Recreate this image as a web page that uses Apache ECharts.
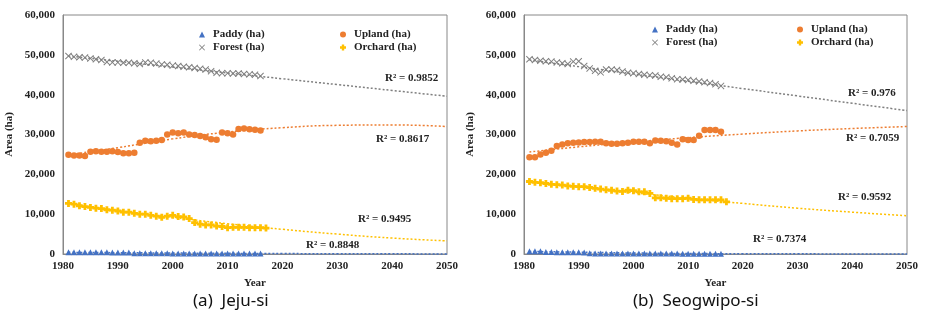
<!DOCTYPE html>
<html>
<head>
<meta charset="utf-8">
<script src="https://cdn.jsdelivr.net/npm/echarts@6/dist/echarts.min.js"></script>
<style>
html, body { margin: 0; padding: 0; background: #fff; }
#main { width: 930px; height: 311px; }
</style>
</head>
<body>
<div id="main"></div>
<script>
// observed years (orchard has one extra point in 2017)
var years = [1981,1982,1983,1984,1985,1986,1987,1988,1989,1990,
             1991,1992,1993,1994,1995,1996,1997,1998,1999,2000,
             2001,2002,2003,2004,2005,2006,2007,2008,2009,2010,
             2011,2012,2013,2014,2015,2016,2017];

// (a) Jeju-si
var paddyJeju = [450,440,430,430,420,420,410,410,400,400,390,390,
                 180,180,170,170,160,160,160,150,150,150,140,140,140,130,130,130,120,120,110,110,110,100,100,100];
var uplandJeju = [24900,24700,24700,24600,25700,25800,25700,25700,25800,25600,
                  25300,25300,25400,27900,28400,28300,28400,28600,30000,30500,
                  30300,30500,30000,29900,29600,29300,28800,28700,30500,30300,
                  30000,31400,31500,31300,31200,31000];
var forestJeju = [49700,49500,49400,49300,49100,48900,48700,48200,48100,48100,
                  48000,48000,47900,47700,48100,48000,47800,47600,47500,47300,
                  47200,47000,46900,46700,46500,46300,45900,45500,45400,45400,
                  45300,45300,45200,45100,45000,44700];
var orchardJeju = [12700,12500,12100,11900,11700,11500,11400,11100,11000,10800,
                   10500,10500,10200,10000,10000,9700,9500,9200,9500,9700,
                   9400,9300,8900,7900,7500,7300,7300,7000,6900,6600,
                   6700,6700,6700,6600,6600,6600,6500];

// (b) Seogwipo-si
var paddySeo = [700,680,660,500,480,470,460,450,440,420,400,
                160,150,150,140,140,130,130,130,120,120,120,110,110,110,100,100,100,90,90,90,80,80,80,70,70];
var uplandSeo = [24300,24300,25000,25400,25900,27100,27500,27800,27900,28000,
                 28100,28100,28200,28200,27800,27700,27700,27800,27900,28200,
                 28200,28200,27800,28500,28400,28300,27900,27500,28800,28600,
                 28600,29700,31100,31100,31100,30700];
var forestSeo = [48900,48700,48500,48400,48300,48100,47900,47700,48300,48400,
                 47200,46600,46000,45600,46300,46300,46200,45800,45500,45400,
                 45200,45000,44900,44800,44500,44400,44100,43900,43800,43700,
                 43500,43300,43100,42900,42600,42200];
var orchardSeo = [18200,18000,17900,17700,17500,17400,17300,17100,17000,16900,
                  16900,16700,16500,16300,16100,16000,15800,15700,16000,15900,
                  15600,15600,15200,14100,14100,14000,13900,13900,13900,14000,
                  13700,13600,13600,13600,13600,13600,13100];

// trend lines
var trendYears = [1981,1990,2000,2010,2020,2030,2040,2050];
var trendJeju = {
    paddy:   [420,330,250,170,110,70,40,20],
    upland:  [24900,26700,28900,30600,31700,32300,32400,32000],
    forest:  [49700,48380,46920,45450,43990,42530,41060,39600],
    orchard: [12800,10900,9200,7600,6200,5000,4000,3300]
};
var trendSeo = {
    paddy:   [650,450,250,130,70,40,20,10],
    upland:  [25600,26900,28100,29200,30100,30900,31500,32000],
    forest:  [48700,47040,45200,43360,41520,39680,37840,36000],
    orchard: [18100,16900,15400,14000,12700,11500,10500,9600]
};
var r2Jeju = ['R² = 0.8848','R² = 0.8617','R² = 0.9852','R² = 0.9495'];
var r2Seo  = ['R² = 0.7374','R² = 0.7059','R² = 0.976','R² = 0.9592'];

var yTicks = [0, 10000, 20000, 30000, 40000, 50000, 60000];

var serif = '"Liberation Serif", "Times New Roman", serif';
var colors = { paddy: '#4472C4', upland: '#ED7D31', forest: '#7F7F7F', orchard: '#FFC000' };
var xMark = 'path://M0,1L1,0L5,4L9,0L10,1L6,5L10,9L9,10L5,6L1,10L0,9L4,5Z';
var plusMark = 'path://M3,0H7V3H10V7H7V10H3V7H0V3H3Z';

function pairs(xs, vals) {
    return vals.map(function (v, i) { return [xs[i], v]; });
}

function panelSeries(g, paddy, upland, forest, orchard, trend) {
    var pts = [
        { name: 'Paddy (ha)', data: paddy, symbol: 'triangle', size: 6, color: colors.paddy },
        { name: 'Upland (ha)', data: upland, symbol: 'circle', size: 6.5, color: colors.upland },
        { name: 'Forest (ha)', data: forest, symbol: xMark, size: 7, color: colors.forest },
        { name: 'Orchard (ha)', data: orchard, symbol: plusMark, size: 7, color: colors.orchard }
    ];
    var keys = ['paddy', 'upland', 'forest', 'orchard'];
    var out = [];
    keys.forEach(function (k) {
        out.push({
            name: k + ' trend', type: 'line', xAxisIndex: g, yAxisIndex: g,
            data: pairs(trendYears, trend[k]), smooth: true, showSymbol: false, symbol: 'none',
            silent: true, clip: false,
            lineStyle: { color: colors[k], width: 1.5, type: [2, 2] }
        });
    });
    pts.forEach(function (p) {
        out.push({
            name: p.name, type: 'scatter', xAxisIndex: g, yAxisIndex: g,
            data: pairs(years, p.data), symbol: p.symbol, symbolSize: p.size, clip: false,
            itemStyle: { color: p.color, opacity: 1 }
        });
    });
    return out;
}

function xAxis(g) {
    return {
        type: 'value', gridIndex: g, min: 1980, max: 2050, interval: 10,
        name: 'Year', nameLocation: 'middle', nameGap: 24,
        nameTextStyle: { fontFamily: serif, fontWeight: 'bold', fontSize: 11, color: '#222' },
        axisLine: { show: true, lineStyle: { color: '#888' } },
        axisTick: { show: false },
        splitLine: { show: false },
        axisLabel: {
            fontFamily: serif, fontWeight: 'bold', fontSize: 11, color: '#222', margin: 7,
            formatter: function (v) { return String(v); }
        }
    };
}

function yAxis(g) {
    return {
        type: 'value', gridIndex: g, min: yTicks[0], max: yTicks[yTicks.length - 1], interval: 10000,
        name: 'Area (ha)', nameLocation: 'middle', nameGap: 48, nameRotate: 90,
        nameTextStyle: { fontFamily: serif, fontWeight: 'bold', fontSize: 11, color: '#222' },
        axisLine: { show: true, lineStyle: { color: '#888' } },
        axisTick: { show: false },
        splitLine: { show: false },
        axisLabel: {
            fontFamily: serif, fontWeight: 'bold', fontSize: 11, color: '#222', margin: 8,
            formatter: function (v) { return v.toLocaleString('en-US'); }
        }
    };
}

function legendItem(name, left, top) {
    return {
        data: [name], left: left, top: top, itemWidth: 6, itemHeight: 6, selectedMode: false,
        itemStyle: { borderWidth: 0 },
        textStyle: { fontFamily: serif, fontWeight: 'bold', fontSize: 11, color: '#222', padding: [0, 0, 0, 3] }
    };
}

function label(text, x, y) {
    return {
        type: 'text', left: x, top: y - 7,
        style: { text: text, font: 'bold 11px ' + serif, fill: '#222' }
    };
}

var chart = echarts.init(document.getElementById('main'));

var option = {
    animation: false,
    backgroundColor: '#fff',
    grid: [
        { left: 63, right: 483, top: 15, bottom: 57, show: true, borderColor: '#888', borderWidth: 1, backgroundColor: 'transparent' },
        { left: 524, right: 23, top: 15, bottom: 57, show: true, borderColor: '#888', borderWidth: 1, backgroundColor: 'transparent' }
    ],
    xAxis: [xAxis(0), xAxis(1)],
    yAxis: [yAxis(0), yAxis(1)],
    legend: [
        legendItem('Paddy (ha)', 194, 24),
        legendItem('Upland (ha)', 335, 24),
        legendItem('Forest (ha)', 194, 37),
        legendItem('Orchard (ha)', 335, 37),
        legendItem('Paddy (ha)', 647, 19),
        legendItem('Upland (ha)', 792, 19),
        legendItem('Forest (ha)', 647, 32),
        legendItem('Orchard (ha)', 792, 32)
    ],
    series: panelSeries(0, paddyJeju, uplandJeju, forestJeju, orchardJeju, trendJeju)
        .concat(panelSeries(1, paddySeo, uplandSeo, forestSeo, orchardSeo, trendSeo)),
    graphic: [
        label(r2Jeju[2], 385, 80),
        label(r2Jeju[1], 376, 141),
        label(r2Jeju[3], 358, 221),
        label(r2Jeju[0], 306, 247),
        label(r2Seo[2], 848, 95),
        label(r2Seo[1], 846, 140),
        label(r2Seo[3], 838, 199),
        label(r2Seo[0], 753, 241),
        {
            type: 'text', left: 193, top: 293,
            style: { text: '(a)  Jeju-si', font: '17px "Noto Sans", sans-serif', fill: '#111' }
        },
        {
            type: 'text', left: 633, top: 293,
            style: { text: '(b)  Seogwipo-si', font: '17px "Noto Sans", sans-serif', fill: '#111' }
        }
    ]
};

chart.setOption(option);
</script>
</body>
</html>
